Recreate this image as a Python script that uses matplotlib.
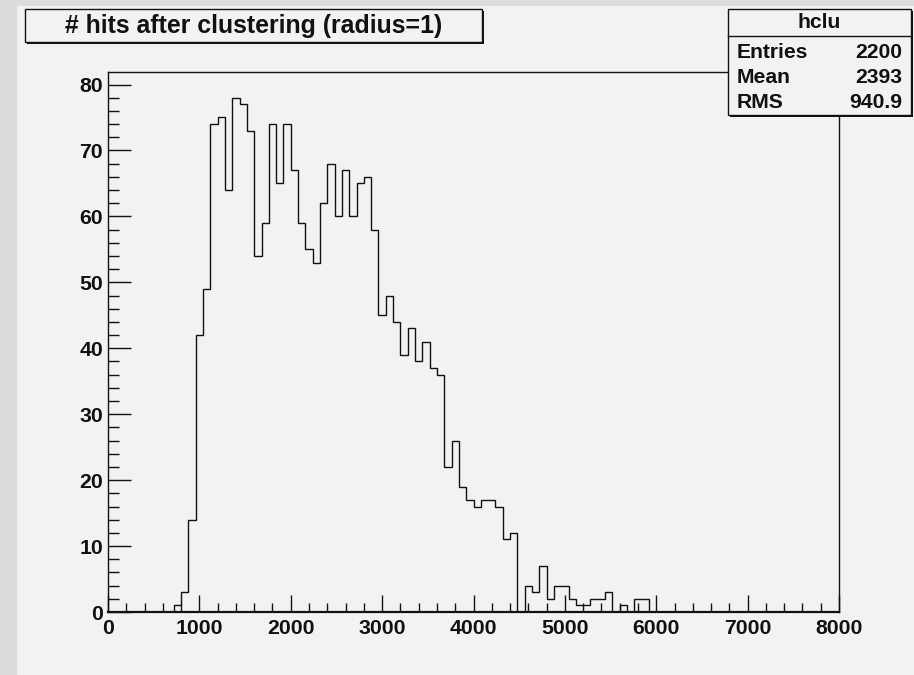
import numpy as np
import matplotlib
matplotlib.use("Agg")
import matplotlib.pyplot as plt
from matplotlib.patches import Rectangle
from matplotlib.ticker import MultipleLocator

# Histogram "hclu": 100 bins of width 80 between 0 and 8000
x_min, x_max, n_bins = 0, 8000, 100
counts = [
    0, 0, 0, 0, 0, 0, 0, 0, 0, 1,
    3, 14, 42, 49, 74, 75, 64, 78, 77, 73,
    54, 59, 74, 65, 74, 67, 59, 55, 53, 62,
    68, 60, 67, 60, 65, 66, 58, 45, 48, 44,
    39, 43, 38, 41, 37, 36, 22, 26, 19, 17,
    16, 17, 17, 16, 11, 12, 0, 4, 3, 7,
    2, 4, 4, 2, 1, 1, 2, 2, 3, 0,
    1, 0, 2, 2, 0, 0, 0, 0, 0, 0,
    0, 0, 0, 0, 0, 0, 0, 0, 0, 0,
    0, 0, 0, 0, 0, 0, 0, 0, 0, 0,
]
hist_name = "hclu"
title = "# hits after clustering (radius=1)"
stat_labels = ["Entries", "Mean", "RMS"]
stat_values = ["2200", "2393", "940.9"]

W, H = 914, 675
BG = "#f2f2f2"
STRIP = "#dcdcdc"
INK = "#111111"
FONT = "Liberation Sans"

fig = plt.figure(figsize=(W / 100, H / 100), dpi=100, facecolor=BG)


def fx(px):
    return px / W


def fy(py):
    return 1 - py / H


# pad strips on the left and top edges of the canvas
fig.patches.append(Rectangle((0, 0), fx(17), 1, transform=fig.transFigure,
                             facecolor=STRIP, edgecolor="none", zorder=0))
fig.patches.append(Rectangle((0, fy(6)), 1, 6 / H, transform=fig.transFigure,
                             facecolor=STRIP, edgecolor="none", zorder=0))

# frame
left, right, top, bottom = 108, 839, 72, 612
ax = fig.add_axes([fx(left), fy(bottom), fx(right - left), (bottom - top) / H])
ax.set_facecolor(BG)

edges = np.linspace(x_min, x_max, n_bins + 1)
ax.stairs(counts, edges, baseline=0, color=INK, linewidth=1.0)

ax.set_xlim(x_min, x_max)
ax.set_ylim(0, max(counts) * 1.05)

ax.xaxis.set_major_locator(MultipleLocator(1000))
ax.xaxis.set_minor_locator(MultipleLocator(200))
ax.yaxis.set_major_locator(MultipleLocator(10))
ax.yaxis.set_minor_locator(MultipleLocator(2))

ax.tick_params(axis="x", which="major", direction="in", length=12.5, width=1.0,
               color=INK, pad=5.0)
ax.tick_params(axis="x", which="minor", direction="in", length=6.5, width=1.0,
               color=INK)
ax.tick_params(axis="y", which="major", direction="in", length=16.3, width=1.0,
               color=INK, pad=3.5)
ax.tick_params(axis="y", which="minor", direction="in", length=8.0, width=1.0,
               color=INK)
for lab in ax.get_xticklabels() + ax.get_yticklabels():
    lab.set_fontfamily(FONT)
    lab.set_fontweight("bold")
    lab.set_fontsize(15.3)
    lab.set_color(INK)

for side, sp in ax.spines.items():
    sp.set_color(INK)
    sp.set_linewidth(1.6 if side == "bottom" else 1.0)


def shadow_box(x0, y0, x1, y1, off=2):
    fig.patches.append(Rectangle((fx(x0 + off), fy(y1 + off)), fx(x1 - x0), (y1 - y0) / H,
                                 transform=fig.transFigure, facecolor=INK,
                                 edgecolor="none", zorder=5))
    fig.patches.append(Rectangle((fx(x0), fy(y1)), fx(x1 - x0), (y1 - y0) / H,
                                 transform=fig.transFigure, facecolor=BG,
                                 edgecolor=INK, linewidth=1.0, zorder=6))


# title box
shadow_box(25, 9, 482, 42)
fig.text(fx(253.5), fy(25.5), title, ha="center", va="center", fontsize=17.9,
         fontweight="bold", family=FONT, color=INK, zorder=7)

# statistics box
shadow_box(728, 9, 911, 115)
fig.add_artist(plt.Line2D([fx(728), fx(911)], [fy(36), fy(36)],
                          transform=fig.transFigure, color=INK, linewidth=1.0,
                          zorder=7))
fig.text(fx(819.5), fy(23), hist_name, ha="center", va="center", fontsize=15.2,
         fontweight="bold", family=FONT, color=INK, zorder=7)
for i, (lab, val) in enumerate(zip(stat_labels, stat_values)):
    yy = fy(52 + 25.5 * i)
    fig.text(fx(737), yy, lab, ha="left", va="center", fontsize=15.2,
             fontweight="bold", family=FONT, color=INK, zorder=7)
    fig.text(fx(902), yy, val, ha="right", va="center", fontsize=15.2,
             fontweight="bold", family=FONT, color=INK, zorder=7)

fig.savefig("out.png", dpi=100, facecolor=BG)
